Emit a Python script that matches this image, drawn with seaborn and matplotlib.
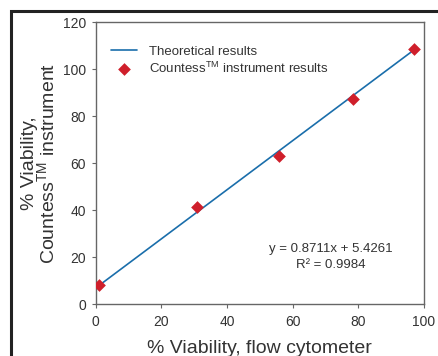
import numpy as np
import pandas as pd
import seaborn as sns
import matplotlib.pyplot as plt
from matplotlib.patches import Rectangle

# measured points
flow_pct = [1.0, 30.9, 55.9, 78.5, 96.9]
countess_pct = [7.9, 41.1, 63.0, 87.1, 108.4]
# theoretical line as drawn (end points)
theo_x = [1.5, 97.0]
theo_y = [8.4, 108.2]

xticks = [0, 20, 40, 60, 80, 100]
yticks = [0, 20, 40, 60, 80, 100, 120]
eq_text = "y = 0.8711x + 5.4261\nR\u00b2 = 0.9984"

sns.set_style("white")
plt.rcParams['font.family'] = ['Liberation Sans', 'DejaVu Sans']
plt.rcParams['mathtext.fontset'] = 'custom'
plt.rcParams['mathtext.rm'] = 'Liberation Sans'

fig = plt.figure(figsize=(4.38, 3.56), dpi=100)
ax = fig.add_axes([0.2185, 0.146, 0.7495, 0.792])

pts = pd.DataFrame({"x": flow_pct, "y": countess_pct})
line = pd.DataFrame({"x": theo_x, "y": theo_y})

sns.lineplot(data=line, x="x", y="y", color="#1a6eab", linewidth=1.2,
             label="Theoretical results", ax=ax)
sns.scatterplot(data=pts, x="x", y="y", marker="D", s=42, color="#cf1f2b",
                linewidth=0, label=r"Countess$^{\rm TM}$ instrument results", ax=ax,
                zorder=3)

ax.set_xlim(0, 100)
ax.set_ylim(0, 120)
ax.set_xticks(xticks)
ax.set_yticks(yticks)
for sp in ax.spines.values():
    sp.set_color("#666666")
    sp.set_linewidth(1.0)
ax.tick_params(axis='both', direction='out', length=3, width=0.8, color="#666666",
               labelsize=10, labelcolor="#333333")
ax.tick_params(axis='x', bottom=True, pad=5)
ax.tick_params(axis='y', left=True, pad=4)

ax.set_xlabel("% Viability, flow cytometer", fontsize=14, color="#333333", labelpad=8)
ax.set_ylabel("% Viability,\n" + r"Countess$^{\rm TM}$ instrument", fontsize=14,
              color="#333333", linespacing=0.9)
ax.yaxis.set_label_coords(-0.112, 0.5)

ax.text(0.715, 0.167, eq_text, transform=ax.transAxes, ha='center', va='center',
        fontsize=9.5, color="#333333", linespacing=1.45)

ax.legend(loc='upper left', bbox_to_anchor=(0.03, 0.935), frameon=False,
          fontsize=9.5, handlelength=2.0, handletextpad=0.9, labelspacing=0.2,
          labelcolor="#333333", borderaxespad=0)

# outer border of the figure panel
fig.add_artist(Rectangle((11 / 438, -0.2), 1.2, 1 - 11 / 356 + 0.2,
                         transform=fig.transFigure, fill=False,
                         edgecolor="#222222", linewidth=2.2, clip_on=False))

fig.savefig("out.png", dpi=100)
plt.close()
